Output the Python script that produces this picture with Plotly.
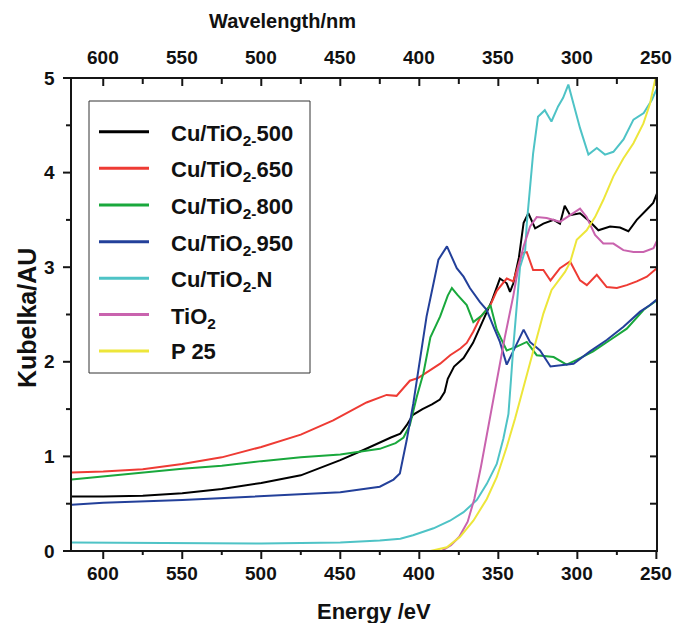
import plotly.graph_objects as go

# ---- data: wavelength (nm) vs Kubelka-Munk absorbance (AU) ----
names = ["Cu/TiO<sub>2-</sub>500", "Cu/TiO<sub>2-</sub>650", "Cu/TiO<sub>2-</sub>800",
         "Cu/TiO<sub>2-</sub>950", "Cu/TiO<sub>2-</sub>N", "TiO<sub>2</sub>", "P 25"]
colors = ["#000000", "#EE3B34", "#19A83C", "#23409A", "#4EC3C6", "#C963AE", "#EDE63A"]

wl_500 = [620, 600, 575, 550, 525, 500, 475, 450, 435, 425, 418, 412, 408, 404, 398, 392, 387,
          384, 382, 378, 372, 366, 358.4, 354, 349, 344.7, 342.6, 340.5, 337, 334, 331, 326.7,
          321.5, 315, 311, 308, 304.6, 298.3, 292, 286.7, 279.3, 273, 267.7, 262.4, 256, 252, 249.6]
kb_500 = [0.576, 0.576, 0.585, 0.61, 0.655, 0.72, 0.80, 0.96, 1.07, 1.15, 1.20, 1.24, 1.33, 1.44,
          1.50, 1.55, 1.60, 1.68, 1.82, 1.95, 2.04, 2.20, 2.48, 2.65, 2.88, 2.83, 2.74, 2.83, 3.10,
          3.47, 3.57, 3.41, 3.46, 3.50, 3.46, 3.65, 3.55, 3.57, 3.48, 3.39, 3.43, 3.42, 3.38, 3.50,
          3.61, 3.68, 3.78]

wl_650 = [620, 600, 575, 550, 525, 500, 475, 454.5, 433.4, 420.7, 414.4, 406, 400.6, 391, 386.8,
          380.5, 374, 370, 365.8, 361.4, 357.4, 355, 351, 344.7, 340.5, 335, 332, 328, 321.5, 317,
          311, 304.6, 298.3, 294, 287.7, 281.4, 275, 268.7, 262.4, 256, 249.7]
kb_650 = [0.83, 0.84, 0.865, 0.92, 0.99, 1.10, 1.23, 1.38, 1.57, 1.65, 1.64, 1.80, 1.83, 1.94, 1.98,
          2.07, 2.14, 2.20, 2.32, 2.47, 2.55, 2.60, 2.75, 2.88, 2.85, 3.15, 3.16, 2.97, 2.97, 2.86,
          2.99, 3.06, 2.86, 2.81, 2.92, 2.79, 2.78, 2.81, 2.85, 2.90, 2.99]

wl_800 = [620, 600, 575, 550, 525, 500, 475, 450, 425, 415, 410, 406, 401.6, 397.4, 393, 386.8,
          382, 379.4, 376, 370, 365.8, 360.5, 355, 351, 344.7, 338.3, 332, 325.7, 315, 306.8,
          300.4, 290, 279.3, 268.7, 258, 249.6]
kb_800 = [0.755, 0.79, 0.83, 0.87, 0.90, 0.95, 0.99, 1.02, 1.08, 1.14, 1.20, 1.33, 1.63, 1.88, 2.26,
          2.48, 2.70, 2.78, 2.71, 2.60, 2.42, 2.49, 2.60, 2.34, 2.12, 2.16, 2.21, 2.07, 2.05, 1.97,
          2.02, 2.11, 2.23, 2.35, 2.55, 2.65]

wl_950 = [620, 600, 550, 500, 475, 450, 425, 416.3, 412.3, 408, 403.8, 399.6, 395.4, 391, 387.9,
          382.5, 376.3, 372, 368, 361.6, 357.4, 353, 349, 344.7, 340.5, 334, 330, 323.6, 317,
          308.7, 302.4, 292, 281.4, 270.8, 260.3, 254, 249.6]
kb_950 = [0.49, 0.51, 0.54, 0.58, 0.60, 0.62, 0.68, 0.755, 0.82, 1.17, 1.56, 2.02, 2.48, 2.83, 3.08,
          3.22, 2.99, 2.90, 2.78, 2.63, 2.55, 2.37, 2.21, 1.97, 2.12, 2.34, 2.21, 2.12, 1.95, 1.97,
          1.98, 2.11, 2.23, 2.37, 2.53, 2.60, 2.66]

wl_n = [620, 600, 550, 500, 450, 425, 412, 404, 391, 380.6, 372, 363.6, 357.3, 351, 346.8, 343.6,
        342, 340.5, 336.3, 333, 332, 328, 324.9, 320.6, 316.4, 312.2, 309, 305.7, 302.5, 298.3,
        293, 287.7, 282.5, 277.2, 270.8, 264.5, 258, 252.8, 249.6]
kb_n = [0.09, 0.088, 0.082, 0.08, 0.09, 0.11, 0.13, 0.166, 0.24, 0.32, 0.41, 0.54, 0.71, 0.92, 1.19,
        1.45, 1.81, 2.16, 3.00, 3.18, 3.46, 4.20, 4.59, 4.66, 4.54, 4.70, 4.79, 4.93, 4.73, 4.47,
        4.19, 4.26, 4.19, 4.22, 4.35, 4.56, 4.63, 4.77, 4.89]

wl_tio2 = [500, 450, 400, 386, 380, 374.7, 369.4, 365.2, 361, 356.8, 352.6, 346, 340.5, 337.3, 334,
           329.9, 325.7, 319.4, 311, 304.6, 298.3, 294.1, 288.8, 283.6, 277.2, 270.9, 264.5, 258.2,
           251.8, 249.6]
kb_tio2 = [0.0, 0.0, 0.0, 0.0, 0.06, 0.15, 0.31, 0.55, 0.89, 1.28, 1.68, 2.25, 2.70, 3.00, 3.22,
           3.43, 3.53, 3.52, 3.48, 3.55, 3.62, 3.53, 3.34, 3.25, 3.25, 3.18, 3.16, 3.16, 3.20, 3.28]

wl_p25 = [500, 450, 400, 393, 382.6, 374.2, 365.8, 357.3, 351, 344.7, 339.4, 336.3, 334, 328, 321.5,
          316.3, 312, 307.8, 304.6, 300.4, 294.1, 288.8, 283.6, 277.2, 270.9, 264.5, 258.2, 254,
          250.8, 249.7]
kb_p25 = [0.0, 0.0, 0.0, 0.0, 0.04, 0.15, 0.32, 0.55, 0.78, 1.10, 1.40, 1.59, 1.74, 2.12, 2.51,
          2.76, 2.85, 2.95, 3.05, 3.29, 3.39, 3.53, 3.71, 3.96, 4.15, 4.31, 4.52, 4.73, 4.98, 5.0]

series_x = [wl_500, wl_650, wl_800, wl_950, wl_n, wl_tio2, wl_p25]
series_y = [kb_500, kb_650, kb_800, kb_950, kb_n, kb_tio2, kb_p25]

# tick positions: wavelength every 50 nm (minor every 25 nm), absorbance every 1 (minor 0.5)
x_ticks = [600, 550, 500, 450, 400, 350, 300, 250]
x_minor_ticks = [575, 525, 475, 425, 375, 325, 275]
y_ticks = [0, 1, 2, 3, 4, 5]
y_minor_ticks = [0.5, 1.5, 2.5, 3.5, 4.5]

# ---- geometry (pixels) ----
W, H = 678, 623
FL, FR, FT, FB = 71, 657, 78, 551          # frame edges
PAD = 12                                   # room kept around the frame for outside ticks
frame_x = [620.4, 249.6]                   # wavelength limits of the frame
frame_y = [0, 5]                           # absorbance limits of the frame
NM_PER_PX = (frame_x[0] - frame_x[1]) / (FR - FL)
AU_PER_PX = (frame_y[1] - frame_y[0]) / (FB - FT)
x_range = [frame_x[0] + PAD * NM_PER_PX, frame_x[1] - PAD * NM_PER_PX]
y_range = [frame_y[0] - PAD * AU_PER_PX, frame_y[1] + PAD * AU_PER_PX]
L, R, T, B = FL - PAD, FR + PAD, FT - PAD, FB + PAD


def px(x):
    return (x - L) / (R - L)


def py(y):
    return (B - y) / (B - T)


def wl_pix(v):
    """Pixel x of a wavelength on the reversed frame scale."""
    return FL + (frame_x[0] - v) / NM_PER_PX


def au_pix(v):
    """Pixel y of an absorbance value on the frame scale."""
    return FB - (v - frame_y[0]) / AU_PER_PX


FONT = "Liberation Sans, Arial, Helvetica, sans-serif"
INK = "#151515"
TXT = "#111111"
bold = dict(family=FONT, color=TXT, weight="bold")

fig = go.Figure()
for xs, ys, c in zip(series_x, series_y, colors):
    fig.add_trace(go.Scatter(x=xs, y=ys, mode="lines", line=dict(color=c, width=2),
                             showlegend=False, hoverinfo="skip"))

axis_common = dict(showgrid=False, zeroline=False, showline=False, ticks="",
                   showticklabels=False, automargin=False)
fig.update_layout(
    template="none",
    width=W, height=H,
    margin=dict(l=L, r=W - R, t=T, b=H - B, pad=0, autoexpand=False),
    paper_bgcolor="white", plot_bgcolor="white",
    xaxis=dict(range=x_range, **axis_common),
    yaxis=dict(range=y_range, **axis_common),
)


def bar(x0, y0, x1, y1):
    """Solid filled strip between two pixel corners (frame sides and tick marks)."""
    fig.add_shape(type="rect", xref="paper", yref="paper",
                  x0=px(min(x0, x1)), x1=px(max(x0, x1)),
                  y0=py(max(y0, y1)), y1=py(min(y0, y1)),
                  fillcolor=INK, line=dict(width=0), layer="above")


HALF = 1.0  # half thickness of frame and ticks, px

# frame sides
bar(FL - HALF, FT - HALF, FR + HALF, FT + HALF)   # top
bar(FL - HALF, FB - HALF, FR + HALF, FB + HALF)   # bottom
bar(FL - HALF, FT - HALF, FL + HALF, FB + HALF)   # left
bar(FR - HALF, FT - HALF, FR + HALF, FB + HALF)   # right

# tick marks: outside on bottom/left, inside on top/right
for vals, bottom_len, top_len in [(x_ticks, 8, 8), (x_minor_ticks, 4, 6)]:
    for v in vals:
        xp = wl_pix(v)
        bar(xp - HALF, FB, xp + HALF, FB + bottom_len)
        bar(xp - HALF, FT, xp + HALF, FT + top_len)
for vals, left_len in [(y_ticks, 8), (y_minor_ticks, 5)]:
    for v in vals:
        yp = au_pix(v)
        bar(FL - left_len, yp - HALF, FL, yp + HALF)
        bar(FR - 7, yp - HALF, FR, yp + HALF)

# ---- tick labels ----
for v in x_ticks:
    for ypix in (573, 57):  # bottom and top wavelength scales
        fig.add_annotation(text=str(v), x=v, xref="x", y=py(ypix), yref="paper",
                           xanchor="center", yanchor="middle", showarrow=False,
                           font=dict(size=19, **bold))
for v in y_ticks:
    fig.add_annotation(text=str(v), x=px(57), xref="paper", y=v, yref="y",
                       xanchor="right", yanchor="middle", showarrow=False,
                       font=dict(size=19, **bold))

# ---- axis titles ----
fig.add_annotation(text="Wavelength/nm", x=px(282), y=py(21), xref="paper", yref="paper",
                   xanchor="center", yanchor="middle", showarrow=False, font=dict(size=20, **bold))
fig.add_annotation(text="Energy /eV", x=px(374), y=py(611), xref="paper", yref="paper",
                   xanchor="center", yanchor="middle", showarrow=False, font=dict(size=22, **bold))
fig.add_annotation(text="Kubelka/AU", x=px(27), y=py(318), xref="paper", yref="paper",
                   xanchor="center", yanchor="middle", textangle=-90, showarrow=False,
                   font=dict(size=25, **bold))

# ---- legend: box, line keys and labels ----
fig.add_shape(type="rect", xref="paper", yref="paper", x0=px(89), x1=px(310),
              y0=py(373), y1=py(101), line=dict(color="#333333", width=1),
              fillcolor="white", layer="above")
row_y = [131.7, 168.3, 205, 241.7, 278.3, 314.5, 351]
for name, c, ry in zip(names, colors, row_y):
    fig.add_shape(type="line", xref="paper", yref="paper", x0=px(99), x1=px(149),
                  y0=py(ry), y1=py(ry), line=dict(color=c, width=3), layer="above")
    shift = 3 if "<sub>" in name else 0
    fig.add_annotation(text=name, x=px(169), y=py(ry + shift), xref="paper", yref="paper",
                       xanchor="left", yanchor="middle", showarrow=False, font=dict(size=22, **bold))

fig.write_html("out.html")
